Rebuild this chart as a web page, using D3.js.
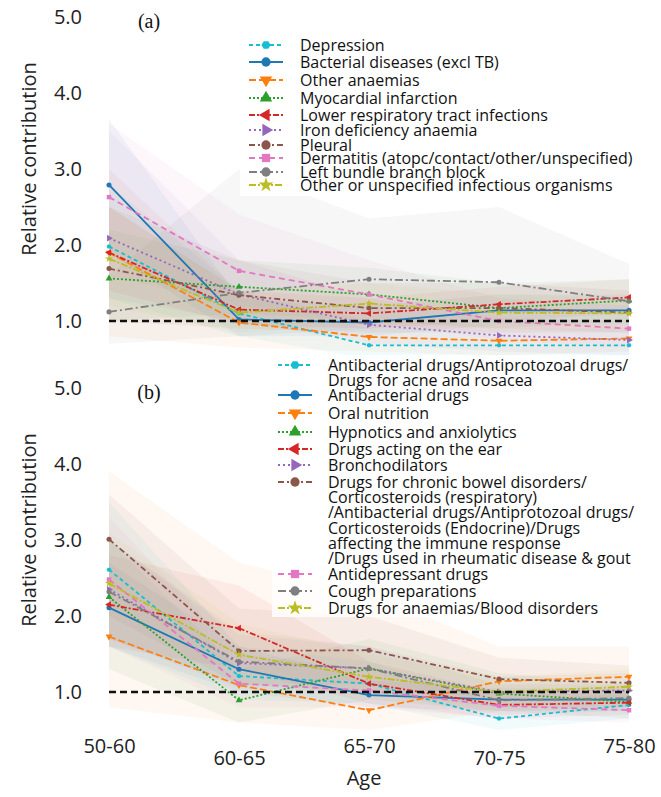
<!DOCTYPE html>
<html><head><meta charset="utf-8">
<script src="https://cdn.jsdelivr.net/npm/d3@7"></script>
<style>body{margin:0;background:#fff} svg{display:block}</style>
</head><body><svg id="c" width="661" height="797"></svg>
<script>
// ---------- data ----------
const ages = ["50-60", "60-65", "65-70", "70-75", "75-80"];
const yTicks = [1, 2, 3, 4, 5];

const labelsA = [
  ["Depression"], ["Bacterial diseases (excl TB)"], ["Other anaemias"], ["Myocardial infarction"],
  ["Lower respiratory tract infections"], ["Iron deficiency anaemia"], ["Pleural"],
  ["Dermatitis (atopc/contact/other/unspecified)"], ["Left bundle branch block"],
  ["Other or unspecified infectious organisms"]
];
const valuesA = [
  [1.98, 1.10, 0.68, 0.68, 0.68],
  [2.79, 1.02, 0.98, 1.14, 1.14],
  [1.90, 0.98, 0.79, 0.74, 0.77],
  [1.56, 1.45, 1.35, 1.17, 1.27],
  [1.90, 1.15, 1.10, 1.22, 1.31],
  [2.09, 1.35, 0.95, 0.81, 0.75],
  [1.69, 1.34, 1.17, 1.17, 1.11],
  [2.63, 1.66, 1.35, 1.00, 0.90],
  [1.12, 1.37, 1.55, 1.51, 1.26],
  [1.82, 1.11, 1.23, 1.11, 1.10]
];
const lowA = [
  [1.30, 0.80, 0.50, 0.50, 0.50],
  [1.90, 0.80, 0.80, 0.95, 0.95],
  [0.80, 0.65, 0.60, 0.55, 0.60],
  [1.00, 1.10, 1.00, 0.90, 1.00],
  [1.40, 0.95, 0.90, 1.00, 1.10],
  [1.30, 1.00, 0.70, 0.60, 0.55],
  [1.00, 0.90, 0.85, 0.85, 0.85],
  [1.60, 1.20, 1.00, 0.75, 0.65],
  [0.70, 0.80, 0.90, 0.90, 0.85],
  [1.20, 0.85, 0.95, 0.90, 0.90]
];
const highA = [
  [2.80, 1.40, 0.90, 0.90, 0.90],
  [3.65, 1.30, 1.20, 1.35, 1.35],
  [3.00, 1.40, 1.00, 0.95, 0.95],
  [2.20, 1.80, 1.70, 1.50, 1.55],
  [2.50, 1.40, 1.30, 1.45, 1.55],
  [3.50, 1.80, 1.30, 1.05, 1.00],
  [2.50, 1.80, 1.50, 1.50, 1.40],
  [3.60, 2.40, 1.80, 1.30, 1.20],
  [1.60, 3.00, 2.35, 2.50, 1.75],
  [2.50, 1.40, 1.50, 1.35, 1.30]
];

const labelsB = [
  ["Antibacterial drugs/Antiprotozoal drugs/", "Drugs for acne and rosacea"],
  ["Antibacterial drugs"], ["Oral nutrition"], ["Hypnotics and anxiolytics"],
  ["Drugs acting on the ear"], ["Bronchodilators"],
  ["Drugs for chronic bowel disorders/", "Corticosteroids (respiratory)",
   "/Antibacterial drugs/Antiprotozoal drugs/", "Corticosteroids (Endocrine)/Drugs",
   "affecting the immune response", "/Drugs used in rheumatic disease & gout"],
  ["Antidepressant drugs"], ["Cough preparations"], ["Drugs for anaemias/Blood disorders"]
];
const valuesB = [
  [2.61, 1.21, 1.11, 0.65, 0.83],
  [2.11, 1.30, 0.96, 0.90, 0.90],
  [1.73, 1.09, 0.76, 1.14, 1.20],
  [2.25, 0.89, 1.31, 0.98, 0.87],
  [2.15, 1.84, 1.11, 0.83, 0.86],
  [2.35, 1.38, 1.31, 1.00, 1.02],
  [3.01, 1.54, 1.55, 1.17, 1.12],
  [2.48, 1.11, 1.02, 0.82, 0.76],
  [2.32, 1.40, 1.31, 0.89, 0.92],
  [2.43, 1.49, 1.20, 1.00, 1.07]
];
const lowB = [
  [1.60, 0.90, 0.85, 0.50, 0.65],
  [1.60, 1.00, 0.80, 0.75, 0.75],
  [0.80, 0.60, 0.50, 0.75, 0.80],
  [1.30, 0.60, 0.90, 0.75, 0.65],
  [1.60, 1.30, 0.85, 0.65, 0.70],
  [1.70, 1.05, 1.00, 0.80, 0.80],
  [2.00, 1.10, 1.10, 0.90, 0.90],
  [1.60, 0.80, 0.80, 0.65, 0.60],
  [1.70, 1.10, 1.00, 0.70, 0.75],
  [1.70, 1.10, 0.95, 0.80, 0.85]
];
const highB = [
  [3.50, 1.60, 1.40, 0.85, 1.00],
  [2.70, 1.60, 1.15, 1.05, 1.05],
  [3.90, 2.70, 2.30, 1.60, 1.60],
  [3.00, 1.30, 1.70, 1.25, 1.10],
  [2.80, 2.40, 1.40, 1.00, 1.05],
  [3.00, 1.75, 1.60, 1.20, 1.25],
  [3.60, 2.10, 2.00, 1.45, 1.35],
  [3.30, 1.50, 1.30, 1.00, 0.95],
  [3.00, 1.80, 1.60, 1.10, 1.10],
  [3.10, 1.90, 1.50, 1.20, 1.30]
];

// ---------- styles ----------
const colors = ["#17becf", "#1f77b4", "#ff7f0e", "#2ca02c", "#d62728",
                "#9467bd", "#8c564b", "#e377c2", "#7f7f7f", "#bcbd22"];
const dashes = ["4,3", null, "7,3", "2,2", "6,2,2,2", "2,3", "6,3,2,3", "6,4", "8,3,2,3", "7,2,2,2"];
const shapes = ["hex", "circle", "down", "up", "left", "right", "circle", "square", "circle", "star"];

const svg = d3.select("#c");
const x = d3.scalePoint().domain(ages).range([109, 629]);
const yA = d3.scaleLinear().domain([1, 5]).range([321, 17]);
const yB = d3.scaleLinear().domain([1, 5]).range([692, 388]);

function markerPath(shape, r) {
  if (shape === "hex") {
    const h = r * 0.8;
    return `M${-r},0L${-r/2},${-h}L${r/2},${-h}L${r},0L${r/2},${h}L${-r/2},${h}Z`;
  }
  const area = r * r * 3.2;
  if (shape === "circle") return d3.symbol(d3.symbolCircle, area)();
  if (shape === "square") return d3.symbol(d3.symbolSquare, area)();
  if (shape === "star") return d3.symbol(d3.symbolStar, area)();
  return d3.symbol(d3.symbolTriangle, area)();
}
function markerRot(shape) {
  return {down: 180, left: -90, right: 90}[shape] || 0;
}

function drawPanel(y, vals, lo, hi, labels, leg) {
  const g = svg.append("g");
  // confidence bands
  const area = d3.area().x((d, i) => x(ages[i])).y0(d => y(d[0])).y1(d => y(d[1]));
  vals.forEach((v, s) => {
    const pts = lo[s].map((l, i) => [l, hi[s][i]]);
    g.append("path").attr("d", area(pts)).attr("fill", colors[s]).attr("fill-opacity", 0.06);
  });
  // lines
  const line = d3.line().x((d, i) => x(ages[i])).y(d => y(d));
  vals.forEach((v, s) => {
    g.append("path").attr("d", line(v)).attr("fill", "none")
      .attr("stroke", colors[s]).attr("stroke-width", 1.8)
      .attr("stroke-dasharray", dashes[s]);
    v.forEach((d, i) => {
      g.append("path").attr("d", markerPath(shapes[s], 2.5))
        .attr("transform", `translate(${x(ages[i])},${y(d)}) rotate(${markerRot(shapes[s])})`)
        .attr("fill", colors[s]);
    });
  });
  // reference line
  g.append("line").attr("x1", x(ages[0])).attr("x2", x(ages[4]))
    .attr("y1", y(1)).attr("y2", y(1))
    .attr("stroke", "#111").attr("stroke-width", 2.4).attr("stroke-dasharray", "7,4");
  // y tick labels
  g.selectAll(".yt").data(yTicks).enter().append("text")
    .attr("x", 82).attr("y", d => y(d)).attr("dy", "0.36em")
    .attr("text-anchor", "end").attr("font-family", "Open Sans").attr("font-size", 20)
    .attr("fill", "#222").text(d => d.toFixed(1));
  // y axis title
  const mid = (y(1) + y(5)) / 2 - 10;
  g.append("text").attr("transform", `translate(29,${mid}) rotate(-90)`)
    .attr("text-anchor", "middle").attr("dy", "0.36em").attr("font-family", "Open Sans").attr("font-size", 20)
    .attr("fill", "#222").text("Relative contribution");
  // panel tag
  g.append("text").attr("x", 149).attr("y", y(5) + 4).attr("dy", "0.36em")
    .attr("text-anchor", "middle").attr("font-family", "Liberation Serif").attr("font-size", 20)
    .attr("fill", "#111").text(leg.tag);
  // legend
  g.append("rect").attr("x", leg.box[0]).attr("y", leg.box[1]).attr("width", leg.box[2]).attr("height", leg.box[3])
    .attr("fill", "#fff").attr("fill-opacity", 0.8);
  labels.forEach((lines, s) => {
    const ry = leg.rows[s];
    g.append("line").attr("x1", leg.mx - 17).attr("x2", leg.mx + 17).attr("y1", ry).attr("y2", ry)
      .attr("stroke", colors[s]).attr("stroke-width", 2).attr("stroke-dasharray", dashes[s]);
    g.append("path").attr("d", markerPath(shapes[s], 4.6))
      .attr("transform", `translate(${leg.mx},${ry}) rotate(${markerRot(shapes[s])})`)
      .attr("fill", colors[s]);
    lines.forEach((t, k) => {
      g.append("text").attr("x", leg.tx).attr("y", ry + k * leg.lh).attr("dy", "0.36em")
        .attr("font-family", "Open Sans").attr("font-size", 16).attr("fill", "#111").text(t);
    });
  });
}

drawPanel(yA, valuesA, lowA, highA, labelsA, {
  tag: "(a)", mx: 266, tx: 300, lh: 15,
  rows: [45, 62, 80, 98, 115, 130, 145, 158, 172, 185],
  box: [240, 34, 415, 162]
});
drawPanel(yB, valuesB, lowB, highB, labelsB, {
  tag: "(b)", mx: 295, tx: 328, lh: 15.3,
  rows: [365, 395, 413, 432, 449, 465, 482, 574, 591, 608],
  box: [272, 355, 385, 262]
});

// x axis labels
const xg = svg.append("g").attr("transform", "translate(0,746)")
  .call(d3.axisBottom(x).tickSize(0).tickPadding(0));
xg.select(".domain").remove();
xg.selectAll("text").attr("font-family", "Open Sans").attr("font-size", 20).attr("fill", "#222")
  .attr("dy", (d, i) => (i % 2 ? 12 : 0) + 7);
svg.append("text").attr("x", 364).attr("y", 778).attr("dy", "0.36em").attr("text-anchor", "middle")
  .attr("font-family", "Open Sans").attr("font-size", 20).attr("fill", "#222").text("Age");
</script></body></html>
